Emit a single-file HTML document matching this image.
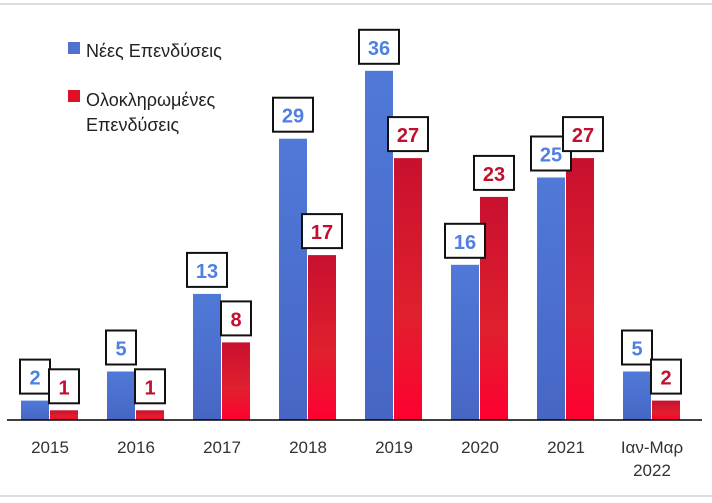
<!DOCTYPE html>
<html><head><meta charset="utf-8"><style>body{margin:0;background:#fff}</style></head><body>
<svg width="712" height="498" xmlns="http://www.w3.org/2000/svg" font-family="Liberation Sans, sans-serif">
<defs>
<linearGradient id="r" x1="0" y1="0" x2="0" y2="1"><stop offset="0" stop-color="#c8102e"/><stop offset="0.6" stop-color="#e0202e"/><stop offset="1" stop-color="#ff0030"/></linearGradient>
<linearGradient id="b" x1="0" y1="0" x2="0" y2="1"><stop offset="0" stop-color="#5079d8"/><stop offset="1" stop-color="#4766c4"/></linearGradient>
</defs>
<line x1="0" y1="4" x2="712" y2="4" stroke="#bbb"/>
<line x1="0" y1="496" x2="712" y2="496" stroke="#bbb"/>
<rect x="68" y="42" width="12" height="12" fill="#4f72d2"/>
<text x="86" y="57" font-size="18" fill="#222">Νέες Επενδύσεις</text>
<rect x="68" y="90" width="12" height="12" fill="#e0102a"/>
<text x="86" y="106" font-size="18" fill="#222">Ολοκληρωμένες</text>
<text x="86" y="131" font-size="18" fill="#222">Επενδύσεις</text>

<g fill="url(#b)">
<rect x="21" y="400.6" width="28" height="19.4"/>
<rect x="107" y="371.5" width="28" height="48.5"/>
<rect x="193" y="293.9" width="28" height="126.1"/>
<rect x="279" y="138.7" width="28" height="281.3"/>
<rect x="365" y="70.8" width="28" height="349.2"/>
<rect x="451" y="264.8" width="28" height="155.2"/>
<rect x="537" y="177.5" width="28" height="242.5"/>
<rect x="623" y="371.5" width="28" height="48.5"/>
</g>
<g fill="url(#r)">
<rect x="50" y="410.3" width="28" height="9.7"/>
<rect x="136" y="410.3" width="28" height="9.7"/>
<rect x="222" y="342.4" width="28" height="77.6"/>
<rect x="308" y="255.1" width="28" height="164.9"/>
<rect x="394" y="158.1" width="28" height="261.9"/>
<rect x="480" y="196.9" width="28" height="223.1"/>
<rect x="566" y="158.1" width="28" height="261.9"/>
<rect x="652" y="400.6" width="28" height="19.4"/>
</g>

<g fill="#fff" stroke="#111" stroke-width="2">
<rect x="20" y="359.6" width="30" height="34"/>
<rect x="106" y="330.5" width="30" height="34"/>
<rect x="187" y="252.9" width="40" height="34"/>
<rect x="273" y="97.7" width="40" height="34"/>
<rect x="359" y="29.8" width="40" height="34"/>
<rect x="445" y="223.8" width="40" height="34"/>
<rect x="531" y="136.5" width="40" height="34"/>
<rect x="622" y="330.5" width="30" height="34"/>
</g>
<g font-size="20" font-weight="bold" text-anchor="middle" fill="#4f7fe0">
<text x="35" y="384.6">2</text>
<text x="121" y="355.5">5</text>
<text x="207" y="277.9">13</text>
<text x="293" y="122.7">29</text>
<text x="379" y="54.8">36</text>
<text x="465" y="248.8">16</text>
<text x="551" y="161.5">25</text>
<text x="637" y="355.5">5</text>
</g>
<g fill="#fff" stroke="#111" stroke-width="2">
<rect x="49" y="369.3" width="30" height="34"/>
<rect x="135" y="369.3" width="30" height="34"/>
<rect x="221" y="301.4" width="30" height="34"/>
<rect x="302" y="214.1" width="40" height="34"/>
<rect x="388" y="117.1" width="40" height="34"/>
<rect x="474" y="155.9" width="40" height="34"/>
<rect x="563" y="117.1" width="40" height="34"/>
<rect x="651" y="359.6" width="30" height="34"/>
</g>
<g font-size="20" font-weight="bold" text-anchor="middle" fill="#c0102e">
<text x="64" y="394.3">1</text>
<text x="150" y="394.3">1</text>
<text x="236" y="326.4">8</text>
<text x="322" y="239.1">17</text>
<text x="408" y="142.1">27</text>
<text x="494" y="180.9">23</text>
<text x="583" y="142.1">27</text>
<text x="666" y="384.6">2</text>
</g>

<line x1="7" y1="420" x2="702" y2="420" stroke="#000" stroke-width="1.5"/>
<g font-size="17" fill="#333" text-anchor="middle">
<text x="50" y="453">2015</text><text x="136" y="453">2016</text><text x="222" y="453">2017</text><text x="308" y="453">2018</text><text x="394" y="453">2019</text><text x="480" y="453">2020</text><text x="566" y="453">2021</text><text x="652" y="453">Ιαν-Μαρ</text><text x="652" y="476">2022</text>
</g>
</svg>
</body></html>
